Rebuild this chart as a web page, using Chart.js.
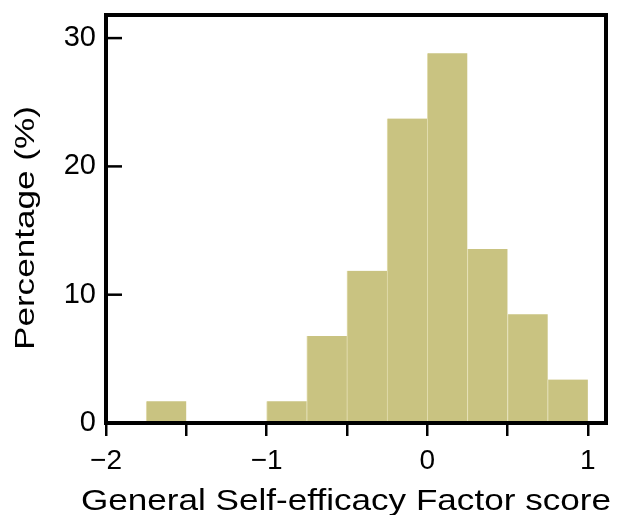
<!DOCTYPE html>
<html>
<head>
<meta charset="utf-8">
<script src="https://cdn.jsdelivr.net/npm/chart.js@4"></script>
<style>
  html, body { margin: 0; padding: 0; background: #fff; }
  #wrap { width: 626px; height: 515px; }
</style>
</head>
<body>
<div id="wrap"><canvas id="chart"></canvas></div>
<script>
// histogram bins (width 0.25), centres and percentage per bin
const binCenters = [-1.625, -1.375, -1.125, -0.875, -0.625, -0.375, -0.125, 0.125, 0.375, 0.625, 0.875];
const percentages = [1.69, 0, 0, 1.69, 6.78, 11.86, 23.73, 28.81, 13.56, 8.47, 3.39];
const xTicks = [-2, -1.5, -1, -0.5, 0, 0.5, 1];
const yTicks = [0, 10, 20, 30];
const xTitle = 'General Self-efficacy Factor score';
const yTitle = 'Percentage (%)';

const barColor = '#c9c381';
const FONT = '"Liberation Sans", Arial, sans-serif';

// box frame, inward y ticks and the (slightly stretched) axis titles
const framePlugin = {
  id: 'frame',
  afterDraw(chart) {
    const { ctx, chartArea: a } = chart;
    const y = chart.scales.y;
    ctx.save();
    ctx.strokeStyle = '#000';
    ctx.lineWidth = 2.5;
    yTicks.forEach(v => {
      const py = y.getPixelForValue(v);
      ctx.beginPath();
      ctx.moveTo(a.left, py);
      ctx.lineTo(a.left + 16, py);
      ctx.stroke();
    });
    ctx.lineWidth = 4;
    ctx.strokeRect(a.left, a.top, a.right - a.left, a.bottom - a.top);

    ctx.fillStyle = '#000';
    ctx.font = '30px ' + FONT;
    ctx.textAlign = 'left';
    ctx.textBaseline = 'alphabetic';
    ctx.save();
    ctx.translate(81, 510);
    ctx.scale(1.17, 1);
    ctx.fillText(xTitle, 0, 0);
    ctx.restore();

    ctx.translate(34, 350);
    ctx.rotate(-Math.PI / 2);
    ctx.scale(1.17, 0.95);
    ctx.fillText(yTitle, 0, 0);
    ctx.restore();
  }
};

new Chart(document.getElementById('chart'), {
  type: 'bar',
  data: {
    datasets: [{
      data: binCenters.map((c, i) => ({ x: c, y: percentages[i] })),
      backgroundColor: barColor,
      borderColor: '#e4dfb2',
      borderWidth: { left: 1, right: 0, top: 0, bottom: 0 },
      barPercentage: 1,
      categoryPercentage: 1
    }]
  },
  options: {
    responsive: true,
    maintainAspectRatio: false,
    animation: false,
    layout: { padding: { left: 0, top: 15, right: 20, bottom: 0 } },
    plugins: { legend: { display: false }, tooltip: { enabled: false } },
    scales: {
      x: {
        type: 'linear',
        offset: false,
        min: -2,
        max: 1.113,
        afterBuildTicks: s => { s.ticks = xTicks.map(v => ({ value: v })); },
        afterFit: s => { s.height = 92; s.paddingLeft = 0; s.paddingRight = 0; },
        ticks: {
          color: '#000',
          font: { size: 28, family: FONT },
          padding: 8,
          maxRotation: 0,
          autoSkip: false,
          callback: v => Number.isInteger(v) ? (v < 0 ? '\u2212' + Math.abs(v) : String(v)) : ''
        },
        grid: { offset: false, drawOnChartArea: false, drawTicks: true, tickLength: 13, color: '#000', lineWidth: 2.5 },
        border: { display: false }
      },
      y: {
        min: 0,
        max: 31.8,
        afterBuildTicks: s => { s.ticks = yTicks.map(v => ({ value: v })); },
        afterFit: s => { s.width = 106; s.paddingTop = 0; s.paddingBottom = 0; },
        ticks: { color: '#000', font: { size: 29, family: FONT }, padding: 10 },
        grid: { display: false, drawTicks: false },
        border: { display: false }
      }
    }
  },
  plugins: [framePlugin]
});
</script>
</body>
</html>
